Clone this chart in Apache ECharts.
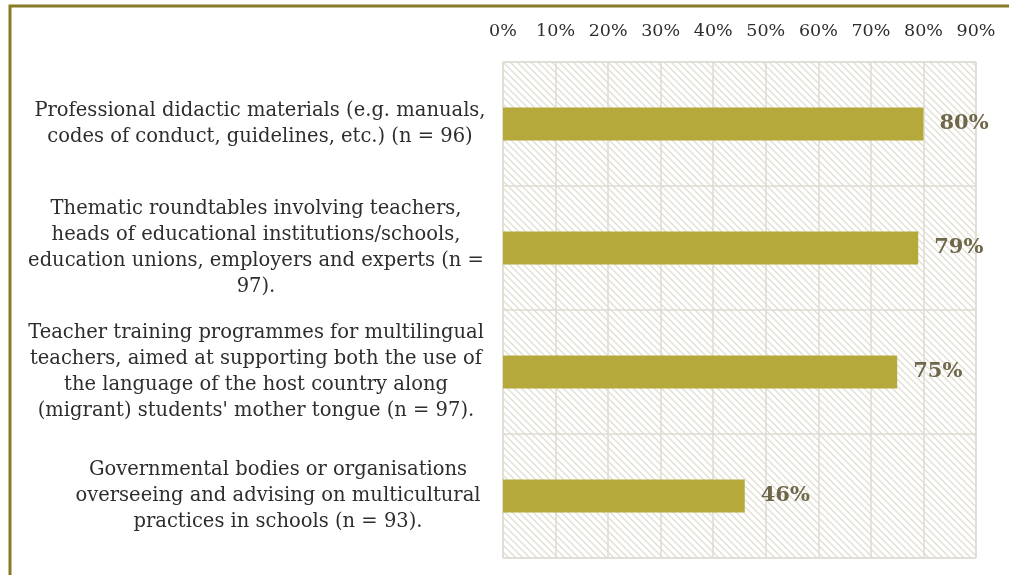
<!DOCTYPE html>
<html>
<head>
<meta charset="utf-8">
<script src="https://cdn.jsdelivr.net/npm/echarts@6/dist/echarts.min.js"></script>
<style>
html,body{margin:0;padding:0;background:#fff;}
#main{width:1009px;height:575px;}
</style>
</head>
<body>
<div id="main"></div>
<script>
const categories = [
  "Professional didactic materials (e.g. manuals,\ncodes of conduct, guidelines, etc.) (n = 96)",
  "Thematic roundtables involving teachers,\nheads of educational institutions/schools,\neducation unions, employers and experts (n =\n97).",
  "Teacher training programmes for multilingual\nteachers, aimed at supporting both the use of\nthe language of the host country along\n(migrant) students' mother tongue (n = 97).",
  "Governmental bodies or organisations\noverseeing and advising on multicultural\npractices in schools (n = 93)."
];
const values = [80, 79, 75, 46];
const tickLabels = ["0%","10%","20%","30%","40%","50%","60%","70%","80%","90%"];

// label horizontal nudges (styling only)
const labelPadLeft = [8, 0, 0, 44];

// hatch pattern
const pc = document.createElement('canvas');
pc.width = 7; pc.height = 7;
const ctx = pc.getContext('2d');
ctx.fillStyle = '#ffffff';
ctx.fillRect(0,0,7,7);
ctx.strokeStyle = '#e0ddd1';
ctx.lineWidth = 1.3;
ctx.beginPath();
ctx.moveTo(-1,-1); ctx.lineTo(8,8);
ctx.moveTo(-8,-1); ctx.lineTo(1,8);
ctx.moveTo(6,-1); ctx.lineTo(15,8);
ctx.stroke();

const labelStyle = {
  align: 'center',
  fontSize: 19.5,
  lineHeight: 26,
  color: '#2d2d2d',
  fontFamily: 'DejaVu Serif'
};

const chart = echarts.init(document.getElementById('main'));
chart.setOption({
  backgroundColor: '#ffffff',
  animation: false,
  textStyle: { fontFamily: 'DejaVu Serif' },
  graphic: [{
    type: 'rect',
    shape: { x: 10, y: 6, width: 1200, height: 800 },
    style: { fill: 'none', stroke: '#877b26', lineWidth: 3 },
    z: 100
  }],
  grid: {
    left: 503, right: 33, top: 62, bottom: 17,
    outerBoundsMode: 'none',
    containLabel: false,
    show: true,
    backgroundColor: { image: pc, repeat: 'repeat' },
    borderColor: '#dedbd0',
    borderWidth: 1
  },
  xAxis: {
    type: 'value',
    position: 'top',
    min: 0, max: 90, interval: 10,
    axisLine: { show: false },
    axisTick: { show: false },
    axisLabel: {
      margin: 22,
      fontSize: 17.5,
      color: '#2d2d2d',
      hideOverlap: false,
      formatter: function (v) { return tickLabels[Math.round(v / 10)]; }
    },
    splitLine: { show: true, lineStyle: { color: '#dedbd0', width: 1.5 } }
  },
  yAxis: {
    type: 'category',
    data: categories.map(function (c, i) {
      return { value: c, textStyle: Object.assign({}, labelStyle, { padding: [0, 0, 0, labelPadLeft[i]] }) };
    }),
    inverse: true,
    axisLine: { show: false },
    axisTick: { show: false },
    splitLine: { show: true, lineStyle: { color: '#dedbd0', width: 1.5 } },
    axisLabel: Object.assign({ margin: 247 }, labelStyle)
  },
  series: [{
    type: 'bar',
    data: values,
    barWidth: 33,
    itemStyle: { color: '#b4a93a' },
    label: {
      show: true,
      position: 'right',
      distance: 16,
      formatter: '{c}%',
      fontSize: 21,
      fontWeight: 'bold',
      color: '#6e674a'
    }
  }]
});
</script>
</body>
</html>
